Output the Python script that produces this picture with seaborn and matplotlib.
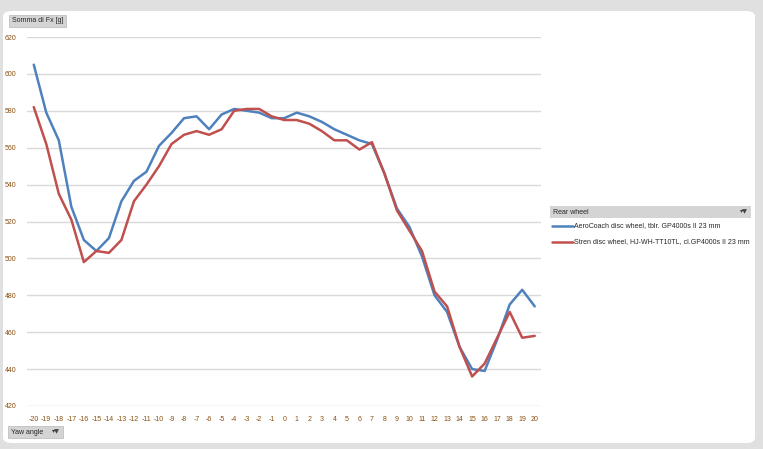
import matplotlib
matplotlib.use("Agg")
import matplotlib.pyplot as plt
from matplotlib.patches import FancyBboxPatch, Rectangle
import pandas as pd
import seaborn as sns

# Yaw angles (x axis categories)
yaw = list(range(-20, 21))

# Somma di Fx [g]
aerocoach = [605, 579, 564, 528, 510, 504, 511, 531, 542, 547, 561, 568, 576, 577,
             570, 578, 581, 580, 579, 576, 576, 579, 577, 574, 570, 567, 564, 562,
             546, 527, 517, 501, 480, 471, 452, 440, 439, 456, 475, 483, 474]
stren = [582, 562, 535, 521, 498, 504, 503, 510, 531, 540, 550, 562, 567, 569,
         567, 570, 580, 581, 581, 577, 575, 575, 573, 569, 564, 564, 559, 563,
         546, 526, 515, 504, 482, 474, 452, 436, 443, 457, 471, 457, 458]

series_names = ["AeroCoach disc wheel, tblr. GP4000s II 23 mm",
                "Stren disc wheel, HJ-WH-TT10TL, cl.GP4000s II 23 mm"]
colors = ["#4F81BD", "#C0504D"]

df = pd.DataFrame({
    "Yaw angle": yaw * 2,
    "Fx": aerocoach + stren,
    "Rear wheel": [series_names[0]] * len(yaw) + [series_names[1]] * len(yaw),
})

sns.set_style("white")
plt.rcParams["font.family"] = ["Liberation Sans", "DejaVu Sans"]

fig = plt.figure(figsize=(7.63, 4.49), dpi=100)
fig.patch.set_facecolor("#e0e0e0")
W, H = 763, 449
FS = 5

# white rounded panel
panel = FancyBboxPatch((3 / W, 6 / H), 752 / W, 432 / H,
                       boxstyle="round,pad=0,rounding_size=0.012",
                       transform=fig.transFigure, facecolor="white",
                       edgecolor="none", zorder=-5)
fig.patches.append(panel)

ax = fig.add_axes([27.5 / W, 1 - 406 / H, 513.5 / W, 369 / H])
ax.set_zorder(2)
ax.set_facecolor("none")
sns.lineplot(data=df, x="Yaw angle", y="Fx", hue="Rear wheel",
             palette=colors, linewidth=1.8, ax=ax, legend=False)

ax.set_xlim(-20.5, 20.5)
ax.set_ylim(420, 620)
ax.set_yticks(range(420, 621, 20))
ax.set_xticks(yaw)
ax.set_xticklabels([str(v) for v in yaw])
ax.grid(axis="y", color="#d9d9d9", linewidth=1)
ax.set_axisbelow(True)
for s in ax.spines.values():
    s.set_visible(False)
ax.tick_params(axis="both", length=0, labelsize=5, colors="#8a4f10")
ax.tick_params(axis="y", pad=8)
ax.tick_params(axis="x", pad=7)
ax.set_xlabel("")
ax.set_ylabel("")

# field buttons
def button(x, y, w, h, text, arrow=False):
    fig.patches.append(Rectangle((x / W, 1 - (y + h) / H), w / W, h / H,
                                 transform=fig.transFigure, facecolor="#d4d4d4",
                                 edgecolor="#c0c0c0", linewidth=0.6, zorder=1))
    fig.text((x + 3) / W, 1 - (y + h / 2) / H, text, fontsize=FS,
             color="#262626", va="center", ha="left")
    if arrow:
        fig.text((x + w - 3) / W, 1 - (y + h / 2) / H, "\u25be\u25bc", fontsize=4.5,
                 color="#404040", va="center", ha="right",
                 family=["DejaVu Sans"])

button(9, 15, 57, 12, "Somma di Fx [g]")
button(8, 426, 55, 12, "Yaw angle", arrow=True)

# legend header
fig.patches.append(Rectangle((550 / W, 1 - 218 / H), 201 / W, 12 / H,
                             transform=fig.transFigure, facecolor="#d4d4d4",
                             edgecolor="none", zorder=1))
fig.text(553 / W, 1 - 212 / H, "Rear wheel", fontsize=FS, color="#262626",
         va="center", ha="left")
fig.text(748 / W, 1 - 212 / H, "\u25be\u25bc", fontsize=4.5, color="#404040",
         va="center", ha="right", family=["DejaVu Sans"])

# legend entries
for i, (name, c) in enumerate(zip(series_names, colors)):
    yy = 1 - (226 + i * 16) / H
    fig.add_artist(plt.Line2D([552 / W, 573 / W], [yy, yy], color=c,
                              linewidth=1.8, transform=fig.transFigure))
    fig.text(574 / W, yy, name, fontsize=FS, color="#262626",
             va="center", ha="left")

fig.savefig("out.png", dpi=100, facecolor=fig.get_facecolor())
